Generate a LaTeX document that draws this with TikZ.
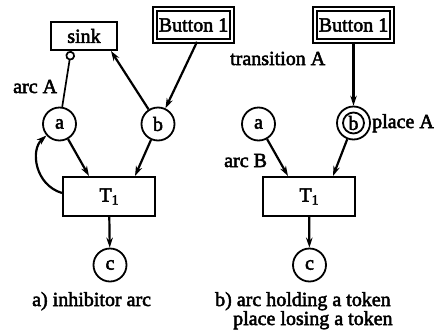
\documentclass[tikz,border=0pt]{standalone}
\usepackage{fontspec}
\setmainfont{Liberation Serif}[FakeBold=2.5]
\usetikzlibrary{arrows.meta,calc}
\begin{document}
\begin{tikzpicture}[x=1pt,y=-1pt,
  font=\fontsize{20}{24}\selectfont,
  place/.style={draw,circle,line width=1.8pt,minimum size=33pt,inner sep=0pt},
  inner ring/.style={draw,circle,line width=1.8pt,minimum size=21pt,inner sep=0pt},
  trans/.style={draw,rectangle,line width=2pt,minimum width=92pt,minimum height=39pt,inner sep=0pt},
  sinkbox/.style={draw,rectangle,line width=2pt,minimum width=66pt,minimum height=28pt,inner sep=0pt},
  btn/.style={draw,rectangle,double,double distance=2pt,line width=1.7pt,minimum width=77pt,minimum height=32pt,inner sep=0pt},
  arr/.style={line width=2.2pt,-{Stealth[length=10pt,width=6.5pt]}},
  inh/.style={line width=1.7pt,-{Circle[open,length=9.5pt,line width=1.7pt]}},
  lbl/.style={anchor=base west,inner sep=0pt}
]
\useasboundingbox (0,0) rectangle (439,335);
% left diagram
\node[sinkbox] (sink) at (84,36) {sink};
\node[btn] (lbtn) at (193.5,25) {Button 1};
\node[place] (la) at (59.5,124) {a};
\node[place] (lb) at (158,124) {b};
\node[trans] (lT) at (109,196.5) {T\raisebox{-3pt}{\fontsize{14}{14}\selectfont 1}};
\node[place] (lc) at (110,265) {c};
\draw[arr] ([xshift=3.5pt]lbtn.south) -- (lb);
\draw[arr] (lb) -- ([xshift=-7pt]sink.south east);
\draw[inh] (la) -- ([xshift=-13pt]sink.south);
\draw[arr] (la) -- ([xshift=-20pt]lT.north);
\draw[arr] (lb) -- ([xshift=26pt]lT.north);
\draw[arr] ([yshift=3.5pt]lT.west) .. controls (35,185) and (30,150) .. (la);
\draw[arr] (lT) -- (lc);
\node[lbl] (arcA) at (13,93) {arc A};
\node[lbl] (capa) at (32,306) {a) inhibitor arc};
% right diagram
\node[btn] (rbtn) at (353.5,25) {Button 1};
\node[place] (ra) at (258.5,124) {a};
\node[place] (rb) at (353.5,123) {b};
\node[inner ring] (rbin) at (rb.center) {};
\node[trans] (rT) at (309,196.5) {T\raisebox{-3pt}{\fontsize{14}{14}\selectfont 1}};
\node[place] (rc) at (309.5,265) {c};
\draw[arr] (rbtn) -- (rb);
\draw[arr] (ra) -- ([xshift=-21pt]rT.north);
\draw[arr] (rb) -- ([xshift=24pt]rT.north);
\draw[arr] (rT) -- (rc);
\node[lbl] (transA) at (230,65) {transition A};
\node[lbl] (placeA) at (372,128) {place A};
\node[lbl] (arcB) at (224,167) {arc B};
\node[lbl] (capb1) at (215,306) {b) arc holding a token};
\node[lbl] (capb2) at (233,325) {place losing a token};
\end{tikzpicture}
\end{document}
